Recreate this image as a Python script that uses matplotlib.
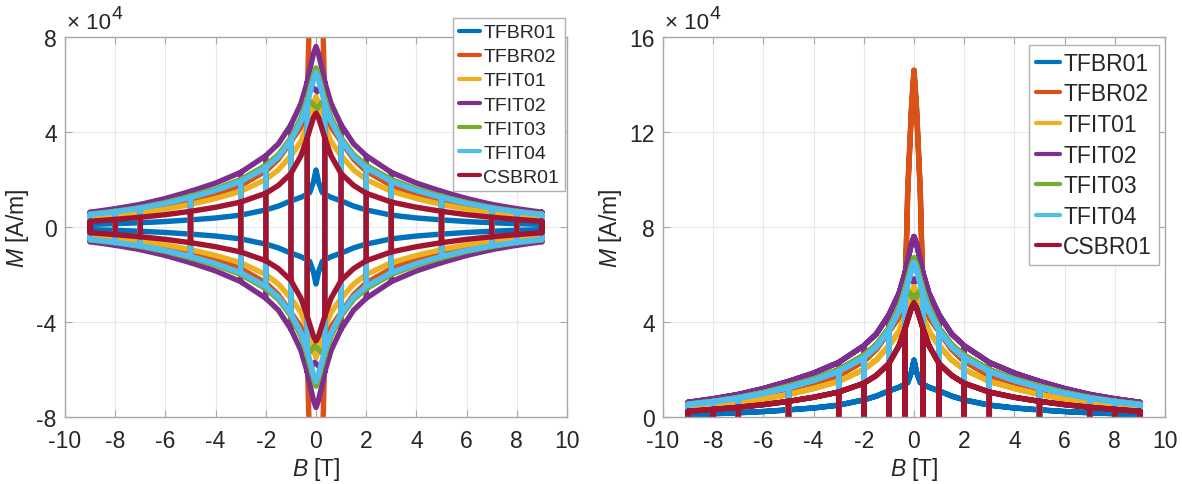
import numpy as np
import matplotlib
matplotlib.use('Agg')
import matplotlib.pyplot as plt
from matplotlib.ticker import FuncFormatter, FixedLocator
from matplotlib.transforms import offset_copy

plt.rcParams['font.family'] = ['Liberation Sans', 'DejaVu Sans']
plt.rcParams['axes.unicode_minus'] = False
plt.rcParams['mathtext.fontset'] = 'custom'
plt.rcParams['mathtext.rm'] = 'Liberation Sans'
plt.rcParams['mathtext.it'] = 'Liberation Sans:italic'

# ---------------- data (M in units of 1e4 A/m) ----------------
strands = ['TFBR01', 'TFBR02', 'TFIT01', 'TFIT02', 'TFIT03', 'TFIT04', 'CSBR01']
colors = ['#0072BD', '#D95319', '#EDB120', '#7E2F8E', '#77AC30', '#4DBEEE', '#A2142F']

B_grid = [0, 0.1, 0.25, 0.35, 0.6, 1, 1.5, 2, 3, 4, 5, 6, 7, 8, 9]
M_TFBR01 = [2.4, 1.9, 1.45, 1.38, 1.25, 1.1, 0.88, 0.72, 0.5, 0.38, 0.3, 0.23, 0.18, 0.14, 0.11]
M_TFBR02 = [14.6, 13.0, 9.5, 5.3, 4.2, 3.6, 2.85, 2.35, 1.75, 1.38, 1.1, 0.87, 0.69, 0.54, 0.42]
M_TFIT01 = [5.5, 5.2, 4.6, 4.25, 3.6, 3.0, 2.4, 2.0, 1.5, 1.2, 0.95, 0.75, 0.6, 0.47, 0.37]
M_TFIT02 = [7.6, 7.3, 6.6, 6.1, 5.2, 4.3, 3.5, 3.0, 2.3, 1.85, 1.5, 1.2, 0.95, 0.77, 0.62]
M_TFIT03 = [6.7, 6.4, 5.8, 5.4, 4.6, 3.75, 3.05, 2.6, 2.0, 1.6, 1.3, 1.03, 0.82, 0.66, 0.54]
M_TFIT04 = [6.5, 6.2, 5.6, 5.2, 4.45, 3.65, 2.95, 2.5, 1.92, 1.54, 1.24, 0.99, 0.79, 0.64, 0.52]
M_CSBR01 = [4.8, 4.6, 4.1, 3.75, 3.0, 2.25, 1.75, 1.42, 1.05, 0.83, 0.66, 0.52, 0.41, 0.32, 0.24]
envelopes = [M_TFBR01, M_TFBR02, M_TFIT01, M_TFIT02, M_TFIT03, M_TFIT04, M_CSBR01]

inner_peak = {'TFIT02': 5.7, 'TFIT03': 5.0}
minor_B = [-9, -8, -7, -5, -3, -2, -1, -0.35, 0.35, 1, 2, 3, 5, 7, 8, 9]

xticks = [-10, -8, -6, -4, -2, 0, 2, 4, 6, 8, 10]
yticks_left = [-8, -4, 0, 4, 8]
yticks_right = [0, 4, 8, 12, 16]
SCALE = 1e4


def build_paths(name, env):
    Bg = np.array(B_grid, dtype=float)
    Me = np.array(env, dtype=float) * SCALE
    Bfull = np.concatenate([-Bg[::-1], Bg[1:]])
    Mfull = np.concatenate([Me[::-1], Me[1:]])
    xs, ys = [], []
    # main loop: upper branch 9 -> -9, reversal, lower branch -9 -> 9, reversal
    xs += list(Bfull[::-1]) + [Bfull[0]] + list(Bfull) + [Bfull[-1], Bfull[-1], np.nan]
    ys += list(Mfull[::-1]) + [0.0] + list(-Mfull) + [0.0, Mfull[-1], np.nan]
    # minor loops
    for b in minor_B:
        m = Me[B_grid.index(abs(b))]
        xs += [b, b, b, np.nan]
        ys += [m, 0.0, -m, np.nan]
    # inner cusp near zero field
    if name in inner_peak:
        p = inner_peak[name] * SCALE
        b0 = 0.35
        m0 = Me[B_grid.index(b0)]
        xs += [-b0, 0.05, b0, np.nan, -b0, -0.05, b0, np.nan]
        ys += [m0, p, m0, np.nan, -m0, -p, -m0, np.nan]
    return np.array(xs), np.array(ys)


fig = plt.figure(figsize=(11.82, 4.85), dpi=100)
ax1 = fig.add_axes([65 / 1182, 67 / 485, 502 / 1182, 380 / 485])
ax2 = fig.add_axes([663 / 1182, 67 / 485, 502 / 1182, 380 / 485])

lw = 3.9
for name, env, col in zip(strands, envelopes, colors):
    x, y = build_paths(name, env)
    ax1.plot(x, y, color=col, lw=lw, label=name, solid_joinstyle='round', solid_capstyle='round')
    ax2.plot(x, np.abs(y), color=col, lw=lw, label=name, solid_joinstyle='round', solid_capstyle='round')

spine_col = '#a8a8a8'
text_col = '#262626'
for ax, yt in ((ax1, yticks_left), (ax2, yticks_right)):
    ax.set_xlim(xticks[0], xticks[-1])
    ax.set_ylim(yt[0] * SCALE, yt[-1] * SCALE)
    ax.xaxis.set_major_locator(FixedLocator(xticks))
    ax.yaxis.set_major_locator(FixedLocator([v * SCALE for v in yt]))
    ax.yaxis.set_major_formatter(FuncFormatter(lambda v, p: '%g' % (v / SCALE)))
    ax.xaxis.set_major_formatter(FuncFormatter(lambda v, p: '%g' % v))
    ax.grid(True, color='#e8e8e8', lw=0.8)
    ax.set_axisbelow(True)
    for s in ax.spines.values():
        s.set_color(spine_col)
        s.set_linewidth(1.0)
    ax.tick_params(direction='in', length=5, width=0.8, color=spine_col,
                   top=True, right=True, labelsize=16.5, labelcolor=text_col)
    ax.tick_params(axis='x', pad=9)
    ax.tick_params(axis='y', pad=6)
    ax.set_xlabel('$B$ [T]', fontsize=16.5, color=text_col, labelpad=2)
    ax.set_ylabel('$M$ [A/m]', fontsize=16.5, color=text_col, labelpad=4)
    t10 = ax.text(0.004, 1.01, '\u00d7 10', transform=ax.transAxes, fontsize=16,
                  color=text_col, ha='left', va='bottom')
    fig.canvas.draw()
    w = t10.get_window_extent().width
    ax.text(0.004, 1.01, '4', fontsize=14, color=text_col, ha='left', va='bottom',
            transform=offset_copy(ax.transAxes, fig=fig, x=w * 72 / fig.dpi + 0.5,
                                  y=8, units='points'))

leg1 = ax1.legend(loc='upper right', bbox_to_anchor=(565 / 1182, 1 - 19 / 485),
                  bbox_transform=fig.transFigure, borderaxespad=0, fontsize=14,
                  handlelength=1.1, handletextpad=0.15, labelspacing=0.33,
                  borderpad=0.3, fancybox=False, framealpha=1, edgecolor='#b0b0b0')
leg2 = ax2.legend(loc='upper right', bbox_to_anchor=(1159 / 1182, 1 - 46 / 485),
                  bbox_transform=fig.transFigure, borderaxespad=0, fontsize=16.5,
                  handlelength=1.05, handletextpad=0.15, labelspacing=0.33,
                  borderpad=0.3, fancybox=False, framealpha=1, edgecolor='#b0b0b0')
for leg in (leg1, leg2):
    leg.get_frame().set_linewidth(1.0)
    for h in leg.get_lines():
        h.set_linewidth(3.0)
    for t in leg.get_texts():
        t.set_color(text_col)

fig.savefig('out.png', dpi=100)
